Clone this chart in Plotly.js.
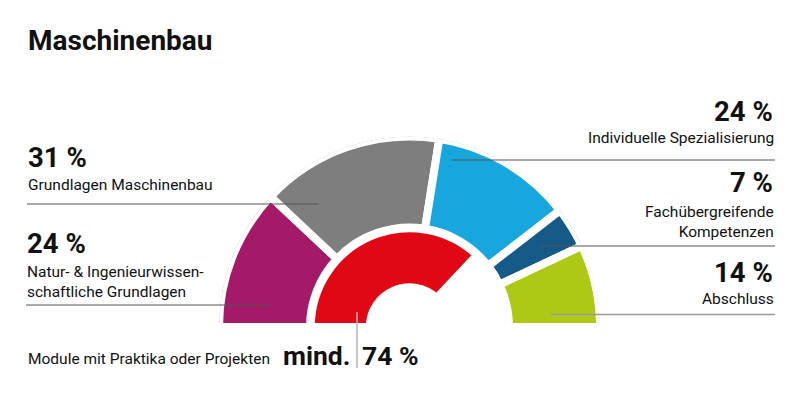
<!DOCTYPE html>
<html>
<head>
<meta charset="utf-8">
<script src="https://cdn.plot.ly/plotly-3.0.1.min.js"></script>
<style>html,body{margin:0;padding:0;background:#fff;}#chart{width:800px;height:394px;}</style>
</head>
<body>
<div id="chart"></div>
<script>
// ---- data ----
const chartTitle = "Maschinenbau";
const segLabels = ["Natur- & Ingenieurwissen-<br>schaftliche Grundlagen", "Grundlagen Maschinenbau", "Individuelle Spezialisierung", "Fachübergreifende<br>Kompetenzen", "Abschluss"];
const segValues = [24, 31, 24, 7, 14];
const segColors = ["#A51A68", "#7D7E7D", "#17A6DD", "#155A89", "#AEC815"];
const practiceLabel = "Module mit Praktika oder Projekten";
const practiceValue = 74;
const practiceColor = "#E20714";

// ---- geometry (px) ----
const W = 800, H = 394;
const stroke = 8;
const R_OUT = 186.5 + stroke / 2, R_OUT_IN = 103.5 - stroke / 2;
const R_RED = 94.7 + stroke / 2, R_RED_IN = 43.7 - stroke / 2;
const CX = 409.5, CY = 327;
const DEG = 180 / 100;

const px = x => x / W, py = y => 1 - y / H;

// cumulative thetas
const thetas = [], widths = [];
let acc = 0;
segValues.forEach(v => { thetas.push((acc + v / 2) * DEG); widths.push(v * DEG); acc += v; });

const traces = [
  {
    type: 'barpolar',
    theta: thetas, width: widths,
    r: segValues.map(() => R_OUT - R_OUT_IN), base: segValues.map(() => R_OUT_IN),
    marker: { color: segColors, line: { color: '#ffffff', width: stroke } },
    hoverinfo: 'skip'
  },
  {
    type: 'barpolar',
    theta: [practiceValue / 2 * DEG], width: [practiceValue * DEG],
    r: [R_RED - R_RED_IN], base: [R_RED_IN],
    marker: { color: [practiceColor], line: { color: '#ffffff', width: stroke } },
    hoverinfo: 'skip'
  }
];

const FONT = 'Roboto, "DejaVu Sans", sans-serif';
const annotations = [];
function ann(text, x, baseline, size, bold, xanchor) {
  annotations.push({
    xref: 'paper', yref: 'paper', x: px(x), y: py(baseline + size * 0.27 + 1),
    xanchor: xanchor || 'left', yanchor: 'bottom', align: xanchor || 'left',
    showarrow: false, borderpad: 0,
    text: bold ? '<b>' + text + '</b>' : text,
    font: { family: FONT, size: size, color: '#111111' }
  });
}

const LBL = 15.5, PCT = 27.5;
ann(chartTitle, 27, 49, 28, true);
ann(segValues[1] + ' %', 27, 167, PCT, true);
ann(segLabels[1], 27, 190, LBL, false);
ann(segValues[0] + ' %', 26, 253, PCT, true);
ann(segLabels[0], 26, 297, LBL, false);
ann(segValues[2] + ' %', 774, 121, PCT, true, 'right');
ann(segLabels[2], 775, 143, LBL, false, 'right');
ann(segValues[3] + ' %', 774, 192, PCT, true, 'right');
ann(segLabels[3], 775, 237, LBL, false, 'right');
ann(segValues[4] + ' %', 774, 282, PCT, true, 'right');
ann(segLabels[4], 775, 304, LBL, false, 'right');
ann(practiceLabel, 27, 364, LBL, false);
ann('mind.', 351, 364, 26.5, true, 'right');
ann(practiceValue + ' %', 361, 364, 26.5, true, 'left');

const shapes = [
  // bottom mask (chart is cut slightly above its centre)
  { type: 'rect', xref: 'paper', yref: 'paper', x0: px(200), x1: px(620), y0: py(323), y1: py(340), fillcolor: '#ffffff', line: { width: 0 }, layer: 'above' },
  { type: 'line', xref: 'paper', yref: 'paper', x0: px(27), x1: px(318), y0: py(204), y1: py(204), line: { color: '#555555', width: 1 } },
  { type: 'line', xref: 'paper', yref: 'paper', x0: px(26), x1: px(270), y0: py(305), y1: py(305), line: { color: '#555555', width: 1 } },
  { type: 'line', xref: 'paper', yref: 'paper', x0: px(452), x1: px(775), y0: py(160), y1: py(160), line: { color: '#555555', width: 1 } },
  { type: 'line', xref: 'paper', yref: 'paper', x0: px(540), x1: px(775), y0: py(246), y1: py(246), line: { color: '#555555', width: 1 } },
  { type: 'line', xref: 'paper', yref: 'paper', x0: px(551), x1: px(775), y0: py(314.5), y1: py(314.5), line: { color: '#9a9a9a', width: 1.5 } },
  { type: 'line', xref: 'paper', yref: 'paper', x0: px(357), x1: px(357), y0: py(312), y1: py(368), line: { color: '#b5b5b5', width: 1.5 } }
];

const layout = {
  width: W, height: H,
  margin: { l: 0, r: 0, t: 0, b: 0 },
  paper_bgcolor: '#ffffff',
  showlegend: false,
  polar: {
    domain: { x: [px(CX - R_OUT), px(CX + R_OUT)], y: [py(CY), py(CY - R_OUT)] },
    sector: [0, 180],
    hole: 0,
    bgcolor: 'rgba(0,0,0,0)',
    radialaxis: { visible: false, range: [0, R_OUT], showgrid: false, showline: false, showticklabels: false, ticks: '' },
    angularaxis: { visible: false, rotation: 180, direction: 'clockwise', showgrid: false, showline: false, showticklabels: false, ticks: '' }
  },
  shapes: shapes,
  annotations: annotations
};

Plotly.newPlot('chart', traces, layout, { staticPlot: true, displayModeBar: false });
</script>
</body>
</html>
